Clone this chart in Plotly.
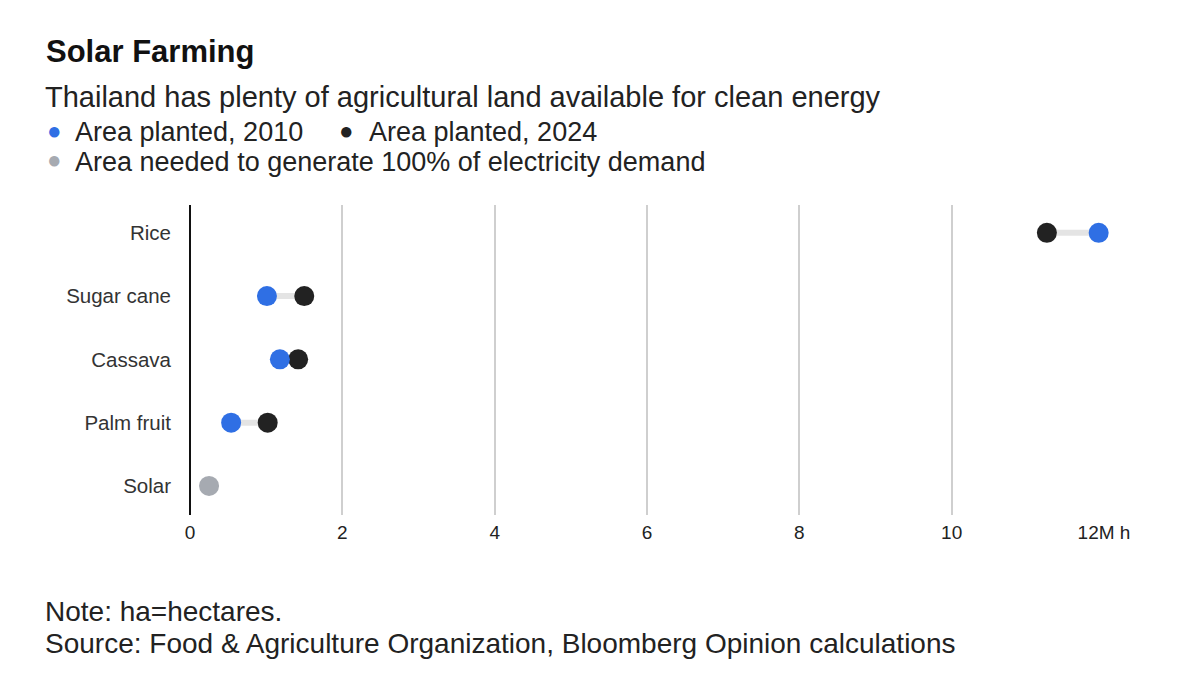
import plotly.graph_objects as go

categories = ["Rice", "Sugar cane", "Cassava", "Palm fruit", "Solar"]
area_2010 = [11.93, 1.01, 1.18, 0.54, None]
area_2024 = [11.25, 1.50, 1.42, 1.02, None]
area_needed = [None, None, None, None, 0.25]
tick_vals = [0, 2, 4, 6, 8, 10, 12]
tick_text = ["0", "2", "4", "6", "8", "10", "12M h"]

BLUE = "#2f6fe4"
BLACK = "#222222"
GRAY = "#a6aab1"
FONT = "Liberation Sans"

W, H = 1200, 696
OFF = 8  # page offset of the figure
L, R, T, B = 190 - OFF, W - 1104 + OFF, 205 - OFF, H - 515 + OFF

fig = go.Figure()

# connector lines
for cat, a, b in zip(categories, area_2010, area_2024):
    if a is not None and b is not None:
        fig.add_trace(go.Scatter(x=[a, b], y=[cat, cat], mode="lines",
                                 line=dict(color="#e4e4e4", width=6),
                                 hoverinfo="skip", showlegend=False))

fig.add_trace(go.Scatter(x=area_2024, y=categories, mode="markers",
                         marker=dict(color=BLACK, size=20), name="Area planted, 2024",
                         cliponaxis=False, showlegend=False))
fig.add_trace(go.Scatter(x=area_2010, y=categories, mode="markers",
                         marker=dict(color=BLUE, size=20), name="Area planted, 2010",
                         cliponaxis=False, showlegend=False))
fig.add_trace(go.Scatter(x=area_needed, y=categories, mode="markers",
                         marker=dict(color=GRAY, size=20),
                         name="Area needed to generate 100% of electricity demand",
                         cliponaxis=False, showlegend=False))

fig.update_layout(
    width=W, height=H,
    paper_bgcolor="white", plot_bgcolor="white",
    margin=dict(l=L, r=R, t=T, b=B),
    font=dict(family=FONT, color="#222"),
    showlegend=False,
)
fig.update_xaxes(range=[0, 12], tickvals=tick_vals, ticktext=tick_text,
                 showgrid=True, gridcolor="#cfcfcf", gridwidth=1.5,
                 zeroline=True, zerolinecolor="#111", zerolinewidth=1.5,
                 showline=False, ticks="", ticklabelstandoff=4,
                 tickfont=dict(size=19, color="#222"), fixedrange=True)
fig.update_yaxes(categoryorder="array", categoryarray=categories[::-1],
                 range=[-0.46, 4.44], showgrid=False, zeroline=False,
                 ticks="", ticklabelstandoff=18, tickfont=dict(size=20.5, color="#333"))

ann = []
def add(text, x, y, size, color="#222", xanchor="left"):
    ann.append(dict(text=text, x=x, y=y, font=dict(size=size, color=color), xanchor=xanchor))

add("<b>Solar Farming</b>", 44, 52, 31, "#111")
add("Thailand has plenty of agricultural land available for clean energy", 43, 97, 29)
add("●", 54, 131, 24, BLUE, "center")
add("Area planted, 2010", 73, 132, 27)
add("●", 346, 131, 24, BLACK, "center")
add("Area planted, 2024", 367, 132, 27)
add("●", 54, 160, 24, GRAY, "center")
add("Area needed to generate 100% of electricity demand", 73, 162, 27)
add("Note: ha=hectares.", 43, 611, 28)
add("Source: Food & Agriculture Organization, Bloomberg Opinion calculations", 43, 643, 28)

pw = W - L - R
ph = H - T - B
for a in ann:
    a.update(xref="paper", yref="paper", showarrow=False, yanchor="middle")
    a["x"] = (a["x"] - OFF - L) / pw
    a["y"] = 1 - (a["y"] - OFF - T) / ph
fig.update_layout(annotations=ann)

fig.write_html("out.html")
